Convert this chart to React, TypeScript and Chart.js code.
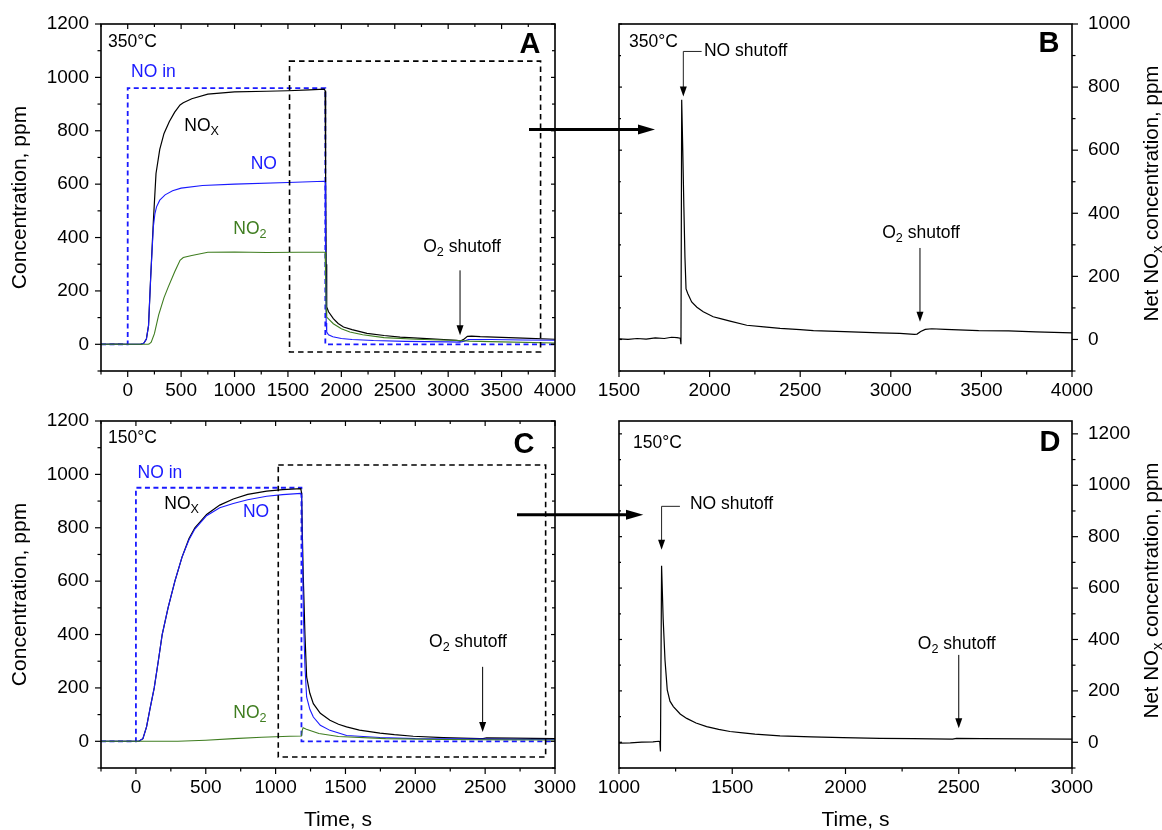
import React, { useEffect, useRef } from 'react';
import { Chart, registerables } from 'chart.js';

Chart.register(...registerables);

const FONT = '"Liberation Sans", Arial, Helvetica, sans-serif';
const BLUE = '#1a1aff';
const GREEN = '#3f7d20';
const BLACK = '#000000';

type P = [number, number];

// ---------- Panel A : 350 °C, concentrations (ppm) vs time (s) ----------
const A_NO_IN: P[] = [[-250, 0], [0, 0], [0, 960], [1850, 960], [1850, 0], [4000, 0]];
const A_NOX: P[] = [
  [-250, 0], [-100, 1], [0, 0], [120, 0], [150, 4], [175, 20], [195, 70], [215, 250], [240, 460],
  [265, 640], [300, 730], [340, 790], [390, 835], [440, 870], [490, 897], [520, 905], [600, 920],
  [750, 937], [1000, 946], [1300, 948], [1500, 950], [1700, 953], [1840, 956], [1848, 950],
  [1853, 600], [1858, 300], [1863, 140], [1880, 122], [1925, 96], [1970, 78], [2020, 65],
  [2100, 55], [2240, 41], [2400, 33], [2550, 27], [2800, 21], [3000, 17], [3080, 15], [3115, 12],
  [3150, 20], [3180, 30], [3220, 31], [3300, 29], [3500, 26], [3700, 23], [4000, 19],
];
const A_NO: P[] = [
  [-250, 0], [0, 0], [120, 0], [150, 4], [175, 20], [195, 70], [215, 250], [240, 440], [255, 490],
  [270, 515], [300, 540], [350, 560], [420, 575], [500, 585], [700, 595], [1000, 600], [1500, 606],
  [1840, 611], [1848, 606], [1853, 300], [1858, 80], [1863, 46], [1880, 36], [1920, 28], [2000, 22],
  [2100, 18], [2300, 14], [2600, 11], [3000, 9], [3110, 8], [3150, 12], [3190, 18], [3400, 18],
  [3700, 16], [4000, 15],
];
const A_NO2: P[] = [
  [-250, 0], [190, 0], [200, 1], [220, 8], [250, 40], [290, 110], [340, 175], [380, 215], [440, 272],
  [490, 315], [520, 325], [600, 333], [750, 345], [1000, 346], [1300, 344], [1600, 345], [1848, 345],
  [1853, 250], [1858, 130], [1863, 102], [1925, 77], [2000, 58], [2080, 46], [2200, 36], [2400, 25],
  [2700, 19], [3000, 15], [3110, 14], [3200, 12], [3500, 9], [4000, 5],
];

// ---------- Panel B : 350 °C, net NOx (ppm) ----------
const B_NET: P[] = [
  [1500, 2], [1550, 0], [1600, 3], [1650, 1], [1700, 5], [1750, 3], [1790, 7], [1820, 6], [1838, 4],
  [1842, -15], [1846, 760], [1852, 600], [1858, 420], [1864, 260], [1870, 160], [1880, 145],
  [1901, 119], [1930, 102], [1965, 88], [2020, 72], [2060, 66], [2113, 58], [2205, 45], [2300, 40],
  [2389, 35], [2500, 31], [2573, 28], [2744, 25], [2940, 21], [3050, 19], [3130, 16], [3145, 17],
  [3165, 25], [3190, 32], [3226, 34], [3300, 32], [3485, 28], [3650, 27], [3800, 24], [4000, 21],
];

// ---------- Panel C : 150 °C, concentrations ----------
const C_NO_IN: P[] = [[-250, 0], [0, 0], [0, 950], [1185, 950], [1185, 0], [3000, 0]];
const C_NOX: P[] = [
  [-250, 0], [20, 0], [50, 10], [76, 54], [100, 120], [131, 200], [160, 300], [188, 400], [230, 500],
  [279, 600], [330, 690], [380, 760], [422, 800], [506, 850], [600, 885], [697, 908], [800, 925],
  [936, 937], [1050, 943], [1180, 947], [1186, 930], [1192, 760], [1198, 616], [1210, 400],
  [1222, 241], [1245, 180], [1270, 141], [1320, 105], [1389, 79], [1450, 64], [1508, 54], [1600, 42],
  [1747, 31], [1850, 25], [1985, 19], [2200, 14], [2462, 10], [2485, 10], [2510, 13], [2700, 12],
  [3000, 10],
];
const C_NO: P[] = [
  [-250, 0], [20, 0], [50, 10], [76, 54], [100, 120], [131, 200], [160, 300], [188, 400], [230, 500],
  [279, 600], [330, 690], [380, 755], [422, 795], [506, 845], [600, 875], [697, 891], [800, 905],
  [936, 918], [1050, 924], [1180, 929], [1186, 920], [1192, 700], [1200, 450], [1210, 280],
  [1222, 166], [1245, 120], [1270, 91], [1320, 60], [1389, 41], [1508, 22], [1747, 14], [2000, 10],
  [2500, 8], [3000, 7],
];
const C_NO2: P[] = [
  [-250, 0], [300, 0], [500, 4], [700, 10], [900, 15], [1100, 19], [1185, 20], [1190, 40], [1197, 51],
  [1220, 45], [1310, 29], [1450, 18], [1787, 10], [2200, 7], [2500, 6], [3000, 5],
];

// ---------- Panel D : 150 °C, net NOx ----------
const D_NET: P[] = [
  [1000, -3], [1050, -2], [1100, 1], [1150, 2], [1175, 4], [1180, 3], [1183, -36], [1188, 687],
  [1195, 480], [1203, 321], [1213, 204], [1225, 160], [1240, 139], [1270, 110], [1299, 93],
  [1340, 75], [1387, 61], [1440, 50], [1490, 42], [1547, 37], [1600, 32], [1711, 25], [1850, 21],
  [1988, 18], [2152, 15], [2300, 14], [2473, 12], [2490, 15], [2600, 14], [2800, 13], [3000, 12],
];

// axis ranges / tick steps
const A_X = [-250, 4000];
const B_X = [1500, 4000];
const C_X = [-250, 3000];
const D_X = [1000, 3000];
const CONC_Y = [-100, 1200];
const B_Y = [-100, 1000];
const D_Y = [-100, 1250];
const X_MINOR = 250;
const X_MAJOR = 500;
const Y_MINOR = 100;
const Y_MAJOR = 200;

const Y_TITLE_LEFT = 'Concentration, ppm';
const X_TITLE = 'Time, s';

type Part = [string, boolean];
type Txt = { x: number; y: number; parts: Part[]; color?: string; size?: number; bold?: boolean; align?: 'left' | 'center' };
type Arr = { x: number; y1: number; y2: number };
type Brk = { x: number; xText: number; y: number; yTip: number };
type Box = { x1: number; x2: number; y1: number; y2: number };
type Decor = {
  outer: 'left' | 'right';
  topTicks: boolean;
  texts: Txt[];
  arrows: Arr[];
  brackets: Brk[];
  boxes: Box[];
  xTitle?: boolean;
  rightTitle?: boolean;
};

const ANNO_SIZE = 17.5;
const TITLE_SIZE = 21;
const TICK_SIZE = 19;

function drawParts(
  ctx: CanvasRenderingContext2D, parts: Part[], x: number, y: number, size: number,
  bold: boolean, color: string, align: 'left' | 'center', baseline: 'middle' | 'alphabetic'
) {
  const w = bold ? 'bold ' : '';
  const fontFor = (sub: boolean) => `${w}${sub ? size * 0.72 : size}px ${FONT}`;
  let total = 0;
  for (const [t, sub] of parts) {
    ctx.font = fontFor(sub);
    total += ctx.measureText(t).width;
  }
  let cx = align === 'center' ? x - total / 2 : x;
  ctx.fillStyle = color;
  ctx.textAlign = 'left';
  ctx.textBaseline = baseline;
  for (const [t, sub] of parts) {
    ctx.font = fontFor(sub);
    const off = sub ? (baseline === 'middle' ? size * 0.32 : size * 0.2) : 0;
    ctx.fillText(t, cx, y + off);
    cx += ctx.measureText(t).width;
  }
}

function decorPlugin(d: Decor) {
  return {
    id: 'decor',
    afterDraw(chart: any) {
      const ctx: CanvasRenderingContext2D = chart.ctx;
      const xs = chart.scales.x;
      const ys = chart.scales.y;
      const { left, right, top, bottom } = chart.chartArea;
      const X = (v: number) => xs.getPixelForValue(v);
      const Y = (v: number) => ys.getPixelForValue(v);
      const line = (x1: number, y1: number, x2: number, y2: number) => {
        ctx.beginPath();
        ctx.moveTo(x1, y1);
        ctx.lineTo(x2, y2);
        ctx.stroke();
      };
      const head = (x: number, yTip: number) => {
        ctx.beginPath();
        ctx.moveTo(x, yTip);
        ctx.lineTo(x - 3.5, yTip - 10);
        ctx.lineTo(x + 3.5, yTip - 10);
        ctx.closePath();
        ctx.fill();
      };
      ctx.save();
      // dashed boxes
      ctx.strokeStyle = BLACK;
      ctx.lineWidth = 1.6;
      ctx.setLineDash([5.5, 4]);
      for (const b of d.boxes) {
        ctx.strokeRect(X(b.x1), Y(b.y2), X(b.x2) - X(b.x1), Y(b.y1) - Y(b.y2));
      }
      ctx.setLineDash([]);
      // frame
      ctx.lineWidth = 1.6;
      ctx.strokeRect(left, top, right - left, bottom - top);
      // ticks
      ctx.lineWidth = 1.2;
      for (let v = Math.ceil(xs.min / X_MINOR) * X_MINOR; v <= xs.max + 1e-6; v += X_MINOR) {
        const px = X(v);
        const major = v % X_MAJOR === 0;
        line(px, bottom, px, bottom + (major ? 6 : 3.5));
        if (d.topTicks) line(px, top, px, top + (major ? 5 : 3));
      }
      for (let v = Math.ceil(ys.min / Y_MINOR) * Y_MINOR; v <= ys.max + 1e-6; v += Y_MINOR) {
        const py = Y(v);
        const major = v % Y_MAJOR === 0;
        if (d.outer === 'left') {
          line(left, py, left - (major ? 6 : 3.5), py);
          line(right, py, right - (major ? 4 : 3), py);
        } else {
          line(right, py, right + (major ? 6 : 3.5), py);
          line(left, py, left + (major ? 3 : 2), py);
        }
      }
      // arrows
      ctx.fillStyle = BLACK;
      ctx.lineWidth = 1;
      for (const a of d.arrows) {
        const px = X(a.x);
        line(px, Y(a.y1), px, Y(a.y2) - 8);
        head(px, Y(a.y2));
      }
      ctx.strokeStyle = '#222';
      for (const b of d.brackets) {
        const px = X(b.x);
        ctx.beginPath();
        ctx.moveTo(X(b.xText), Y(b.y));
        ctx.lineTo(px, Y(b.y));
        ctx.lineTo(px, Y(b.yTip) - 8);
        ctx.stroke();
        head(px, Y(b.yTip));
      }
      // texts
      for (const t of d.texts) {
        drawParts(ctx, t.parts, X(t.x), Y(t.y), t.size ?? ANNO_SIZE, !!t.bold, t.color ?? BLACK, t.align ?? 'left', 'middle');
      }
      if (d.xTitle) {
        drawParts(ctx, [[X_TITLE, false]], (left + right) / 2 + 10, 426, TITLE_SIZE, false, BLACK, 'center', 'alphabetic');
      }
      if (d.rightTitle) {
        ctx.translate(577.5, (top + bottom) / 2 - 4);
        ctx.rotate(-Math.PI / 2);
        drawParts(ctx, [['Net NO', false], ['x', true], [' concentration, ppm', false]], 0, 0, TITLE_SIZE - 0.5, false, BLACK, 'center', 'alphabetic');
      }
      ctx.restore();
    },
  };
}

const line = (pts: P[], color: string, width: number, dash?: number[]) => ({
  data: pts.map(([x, y]) => ({ x, y })),
  borderColor: color,
  borderWidth: width,
  borderDash: dash ?? [],
  pointRadius: 0,
  fill: false,
  tension: 0,
});

function zeroPad(s: any) {
  s.paddingTop = 0;
  s.paddingBottom = 0;
  s.paddingLeft = 0;
  s.paddingRight = 0;
}

function makeConfig(p: {
  datasets: any[]; x: number[]; y: number[]; yPos: 'left' | 'right'; yTitle?: string;
  padding: any; xHeight: number; yWidth: number; decor: Decor;
}): any {
  const tickFont = { family: FONT, size: TICK_SIZE };
  return {
    type: 'line',
    data: { datasets: p.datasets },
    options: {
      animation: false,
      responsive: false,
      maintainAspectRatio: false,
      events: [],
      layout: { padding: p.padding },
      plugins: { legend: { display: false }, tooltip: { enabled: false } },
      scales: {
        x: {
          type: 'linear', min: p.x[0], max: p.x[1],
          afterFit: (s: any) => { s.height = p.xHeight; zeroPad(s); },
          grid: { display: false, drawTicks: false },
          border: { display: false },
          ticks: {
            stepSize: X_MINOR, autoSkip: false, maxRotation: 0, minRotation: 0, padding: 8,
            color: BLACK, font: tickFont,
            callback: (v: number) => (Math.round(v) % X_MAJOR === 0 ? String(Math.round(v)) : ''),
          },
        },
        y: {
          type: 'linear', position: p.yPos, min: p.y[0], max: p.y[1],
          afterFit: (s: any) => { s.width = p.yWidth; zeroPad(s); },
          grid: { display: false, drawTicks: false },
          border: { display: false },
          ticks: {
            stepSize: Y_MINOR, autoSkip: false, padding: p.yPos === 'left' ? 12 : 16,
            color: BLACK, font: tickFont, includeBounds: false,
            callback: (v: number) => {
              const r = Math.round(v);
              return r >= 0 && r % Y_MAJOR === 0 ? String(r) : '';
            },
          },
          title: p.yTitle
            ? { display: true, text: p.yTitle, color: BLACK, font: { family: FONT, size: TITLE_SIZE }, padding: { top: 7.5, bottom: 0 } }
            : { display: false },
        },
      },
    },
    plugins: [decorPlugin(p.decor)],
  };
}

const O2: Part[] = [['O', false], ['2', true], [' shutoff', false]];

function configA() {
  return makeConfig({
    datasets: [
      line(A_NO2, GREEN, 1.1),
      line(A_NO, BLUE, 1.1),
      line(A_NOX, BLACK, 1.2),
      line(A_NO_IN, BLUE, 1.8, [5, 3.5]),
    ],
    x: A_X, y: CONC_Y, yPos: 'left', yTitle: Y_TITLE_LEFT,
    padding: { left: 0, top: 24, right: 25, bottom: 0 }, xHeight: 44, yWidth: 101,
    decor: {
      outer: 'left', topTicks: true,
      boxes: [{ x1: 1515, x2: 3865, y1: -29, y2: 1061 }],
      arrows: [{ x: 3111, y1: 277, y2: 34 }],
      brackets: [],
      texts: [
        { x: -184, y: 1132, parts: [['350°C', false]] },
        { x: 3766, y: 1121, parts: [['A', false]], bold: true, size: 29, align: 'center' },
        { x: 31, y: 1020, parts: [['NO in', false]], color: BLUE },
        { x: 530, y: 817, parts: [['NO', false], ['X', true]] },
        { x: 1151, y: 673, parts: [['NO', false]], color: BLUE },
        { x: 989, y: 431, parts: [['NO', false], ['2', true]], color: GREEN },
        { x: 3130, y: 364, parts: O2, align: 'center' },
      ],
    },
  });
}

function configB() {
  return makeConfig({
    datasets: [line(B_NET, BLACK, 1.2)],
    x: B_X, y: B_Y, yPos: 'right',
    padding: { left: 39, top: 24, right: 0, bottom: 0 }, xHeight: 44, yWidth: 90,
    decor: {
      outer: 'right', topTicks: false, rightTitle: true,
      boxes: [],
      arrows: [{ x: 3161, y1: 290, y2: 56 }],
      brackets: [{ x: 1855, xText: 1956, y: 913, yTip: 770 }],
      texts: [
        { x: 1555, y: 941, parts: [['350°C', false]] },
        { x: 3873, y: 937, parts: [['B', false]], bold: true, size: 29, align: 'center' },
        { x: 1969, y: 913, parts: [['NO shutoff', false]] },
        { x: 3167, y: 337, parts: O2, align: 'center' },
      ],
    },
  });
}

function configC() {
  return makeConfig({
    datasets: [
      line(C_NO2, GREEN, 1.1),
      line(C_NO, BLUE, 1.1),
      line(C_NOX, BLACK, 1.2),
      line(C_NO_IN, BLUE, 1.8, [5, 3.5]),
    ],
    x: C_X, y: CONC_Y, yPos: 'left', yTitle: Y_TITLE_LEFT,
    padding: { left: 0, top: 21, right: 25, bottom: 0 }, xHeight: 62, yWidth: 101,
    decor: {
      outer: 'left', topTicks: true, xTitle: true,
      boxes: [{ x1: 1019, x2: 2933, y1: -59, y2: 1035 }],
      arrows: [{ x: 2482, y1: 279, y2: 35 }],
      brackets: [],
      texts: [
        { x: -200, y: 1136, parts: [['150°C', false]] },
        { x: 2778, y: 1110, parts: [['C', false]], bold: true, size: 29, align: 'center' },
        { x: 12, y: 1005, parts: [['NO in', false]], color: BLUE },
        { x: 203, y: 889, parts: [['NO', false], ['X', true]] },
        { x: 766, y: 859, parts: [['NO', false]], color: BLUE },
        { x: 697, y: 105, parts: [['NO', false], ['2', true]], color: GREEN },
        { x: 2377, y: 373, parts: O2, align: 'center' },
      ],
    },
  });
}

function configD() {
  return makeConfig({
    datasets: [line(D_NET, BLACK, 1.2)],
    x: D_X, y: D_Y, yPos: 'right',
    padding: { left: 39, top: 21, right: 0, bottom: 0 }, xHeight: 62, yWidth: 90,
    decor: {
      outer: 'right', topTicks: false, rightTitle: true, xTitle: true,
      boxes: [],
      arrows: [{ x: 2500, y1: 340, y2: 55 }],
      brackets: [{ x: 1188, xText: 1269, y: 918, yTip: 749 }],
      texts: [
        { x: 1062, y: 1162, parts: [['150°C', false]] },
        { x: 2903, y: 1166, parts: [['D', false]], bold: true, size: 29, align: 'center' },
        { x: 1313, y: 928, parts: [['NO shutoff', false]] },
        { x: 2491, y: 383, parts: O2, align: 'center' },
      ],
    },
  });
}

function Panel(props: { left: number; top: number; width: number; height: number; build: () => any }) {
  const ref = useRef<HTMLCanvasElement>(null);
  useEffect(() => {
    if (!ref.current) return;
    const chart = new Chart(ref.current, props.build());
    return () => chart.destroy();
  }, []);
  return (
    <canvas
      ref={ref}
      width={props.width}
      height={props.height}
      style={{ position: 'absolute', left: props.left, top: props.top, width: props.width, height: props.height }}
    />
  );
}

export default function App() {
  return (
    <div style={{ position: 'absolute', left: 0, top: 0, width: 1162, height: 830, background: '#fff', overflow: 'hidden' }}>
      <Panel left={0} top={0} width={580} height={415} build={configA} />
      <Panel left={580} top={0} width={582} height={415} build={configB} />
      <Panel left={0} top={400} width={580} height={430} build={configC} />
      <Panel left={580} top={400} width={582} height={430} build={configD} />
      <svg width={1162} height={830} style={{ position: 'absolute', left: 0, top: 0, pointerEvents: 'none' }}>
        <line x1={529} y1={129.5} x2={642} y2={129.5} stroke="#000" strokeWidth={3} />
        <polygon points="638,124.5 655,129.5 638,134.5" fill="#000" />
        <line x1={517} y1={514.7} x2={630} y2={514.7} stroke="#000" strokeWidth={3} />
        <polygon points="626,509.7 643.3,514.7 626,519.7" fill="#000" />
      </svg>
    </div>
  );
}
